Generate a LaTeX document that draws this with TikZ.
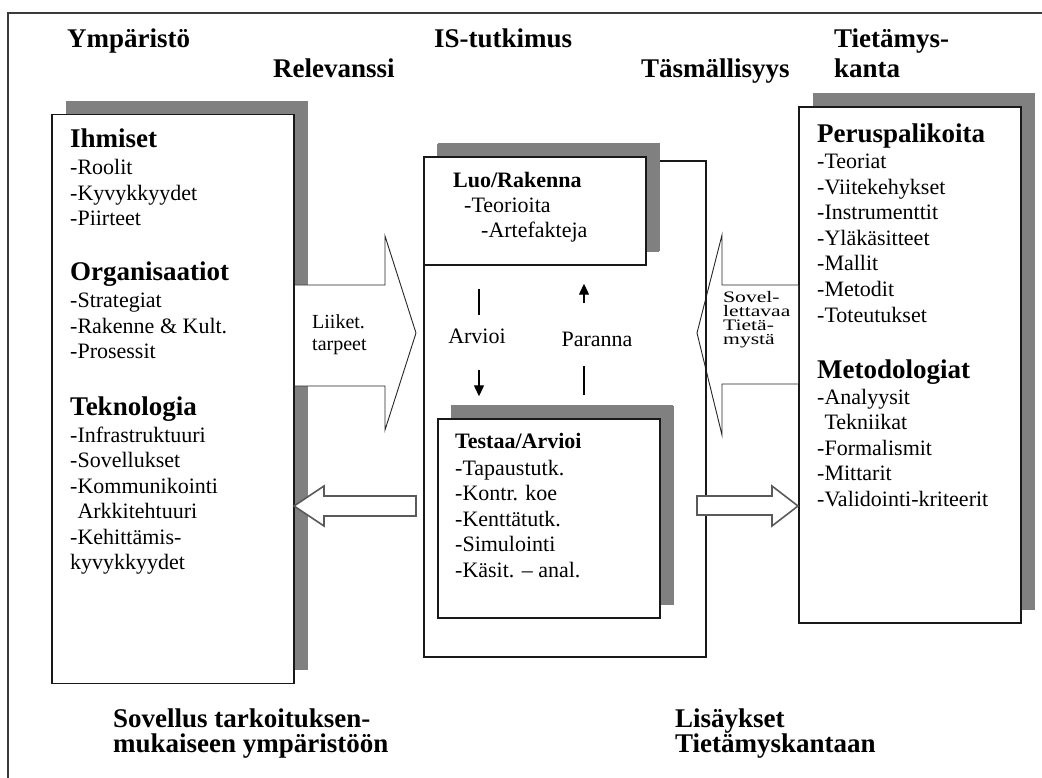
\documentclass[tikz,border=0pt]{standalone}
\usepackage{fontspec}
\setmainfont{Liberation Serif}
\newfontfamily\widelabelfont[FakeStretch=1.35]{Liberation Serif}
\usetikzlibrary{arrows.meta,shadows,calc}
\definecolor{shadowgray}{HTML}{808080}
\definecolor{framegray}{HTML}{3A3A3A}
\definecolor{arrowgray}{HTML}{5A5A5A}

\begin{document}
\begin{tikzpicture}[x=1pt,y=-1pt,
  panel/.style={draw=black!90, line width=1.4pt, fill=white, inner sep=0pt,
    general shadow={fill=shadowgray, shadow xshift=13.5pt, shadow yshift=13.5pt}},
  hdr/.style={font=\fontsize{27}{31}\selectfont\bfseries, anchor=base west, inner sep=0pt},
  boxhd/.style={font=\fontsize{27}{31}\selectfont\bfseries, anchor=base west, inner sep=0pt},
  subhd/.style={font=\fontsize{22}{25}\selectfont\bfseries, anchor=base west, inner sep=0pt},
  item/.style={font=\fontsize{22}{25}\selectfont, anchor=base west, inner sep=0pt},
  flowlbl/.style={font=\fontsize{22}{25}\selectfont, anchor=base, inner sep=0pt},
  arrowlbl/.style={font=\fontsize{20}{23}\selectfont, anchor=base west, inner sep=0pt},
  smalllbl/.style={font=\widelabelfont\fontsize{16}{14.2}\selectfont, anchor=north west, inner sep=0pt, align=left},
  bigarrow/.style={draw=black!85, line width=0.9pt, fill=white, line join=miter},
  smallarrow/.style={draw=arrowgray, line width=1.6pt, fill=white, line join=miter},
  flowline/.style={line width=1.3pt, black}
]
\useasboundingbox (0,0) rectangle (1042,778);

% outer frame, open towards the right and the bottom
\draw[framegray, line width=2pt] (1042,13) -- (8,13) -- (8,778);

% column headings
\node[hdr] (hEnv) at (67,48) {Ympäristö};
\node[hdr] (hRel) at (273,78) {Relevanssi};
\node[hdr] (hIS)  at (434,48) {IS-tutkimus};
\node[hdr] (hRig) at (641,78) {Täsmällisyys};
\node[hdr] (hKb1) at (834,48) {Tietämys-};
\node[hdr] (hKb2) at (834,78) {kanta};

% environment and knowledge base panels
\node[panel, minimum width=242pt, minimum height=569pt] (env) at (173,399) {};
\node[panel, minimum width=222pt, minimum height=516pt] (kb) at (910,365) {};

% big block arrows
\draw[bigarrow] (295,285) -- (385,285) -- (385,236) -- (416,333) -- (385,430) -- (385,386) -- (295,386);
\draw[bigarrow] (798,285) -- (722,285) -- (722,235) -- (697,333) -- (722,435) -- (722,384) -- (798,384);

% IS research frame with its two activity boxes
\node[draw=black!90, line width=1.1pt, minimum width=282pt, minimum height=496pt, inner sep=0pt] (isfr) at (565,409) {};
\node[panel, minimum width=222pt, minimum height=108pt,
  general shadow={fill=shadowgray, shadow xshift=13pt, shadow yshift=13pt}] (luo) at (535,211) {};
\node[panel, minimum width=222pt, minimum height=199pt,
  general shadow={fill=shadowgray, shadow xshift=12.5pt, shadow yshift=14.5pt}] (testaa) at (549,518.5) {};

% small block arrows
\draw[smallarrow] (294,506) -- (324,486) -- (324,496) -- (416,496) -- (416,516) -- (324,516) -- (324,526) -- cycle;
\draw[smallarrow] (697,496) -- (772,496) -- (772,486) -- (798,506) -- (772,526) -- (772,515) -- (697,515) -- cycle;

% environment contents
\node[boxhd] (ihm) at (70,148) {Ihmiset};
\foreach \t [count=\k] in {-Roolit,-Kyvykkyydet,-Piirteet}
  \node[item] (ihm\k) at (70,{149.5+\k*25.5}) {\t};
\node[boxhd] (org) at (70,280) {Organisaatiot};
\foreach \t [count=\k] in {-Strategiat,-Rakenne \& Kult.,-Prosessit}
  \node[item] (org\k) at (70,{282+\k*25.5}) {\t};
\node[boxhd] (tek) at (70,415) {Teknologia};
\foreach \t [count=\k] in {-Infrastruktuuri,-Sovellukset,-Kommunikointi,{\phantom{-}Arkkitehtuuri},-Kehittämis-,kyvykkyydet}
  \node[item] (tek\k) at (70,{416.5+\k*25.5}) {\t};

% knowledge base contents
\node[boxhd] (per) at (817,143) {Peruspalikoita};
\foreach \t [count=\k] in {-Teoriat,-Viitekehykset,-Instrumenttit,-Yläkäsitteet,-Mallit,-Metodit,-Toteutukset}
  \node[item] (per\k) at (817,{143.5+\k*25.5}) {\t};
\node[boxhd] (met) at (817,378) {Metodologiat};
\foreach \t [count=\k] in {-Analyysit,{\phantom{-}Tekniikat},-Formalismit,-Mittarit,-Validointi-kriteerit}
  \node[item] (met\k) at (817,{378.5+\k*25.5}) {\t};

% build box
\node[subhd] (luoT) at (453,188) {Luo/Rakenna};
\node[item] (luo1) at (464,213) {-Teorioita};
\node[item] (luo2) at (481,238) {-Artefakteja};

% evaluate box
\node[subhd] (tesT) at (455,448) {Testaa/Arvioi};
\foreach \t [count=\k] in {-Tapaustutk.,-Kontr. koe,-Kenttätutk.,-Simulointi,-Käsit. – anal.}
  \node[item] (tes\k) at (455,{449.5+\k*25.5}) {\t};

% assess / refine cycle
\node[flowlbl] (arvioi) at (477,343) {Arvioi};
\node[flowlbl] (paranna) at (597,346) {Paranna};
\draw[flowline] ($(luo.south -| arvioi)+(2,23)$) -- ($(arvioi.north)+(2,-13)$);
\draw[flowline, -{Triangle[width=10pt,length=11pt]}] ($(arvioi.south)+(2,27)$) -- ($(testaa.north -| arvioi)+(2,-22)$);
\draw[flowline] ($(testaa.north -| paranna)+(-13,-23)$) -- ($(paranna.south)+(-13,20)$);
\draw[flowline, -{Triangle[width=10pt,length=11pt]}] ($(paranna.north)+(-13,-28)$) -- ($(luo.south -| paranna)+(-13,18)$);

% block arrow labels
\node[arrowlbl] (need1) at (312,328) {Liiket.};
\node[arrowlbl] (need2) at (312,350) {tarpeet};
\node[smalllbl] (app) at (723,291) {Sovel-\\lettavaa\\Tietä-\\mystä};

% bottom captions
\node[hdr] (bL1) at (113,727) {Sovellus tarkoituksen-};
\node[hdr] (bL2) at (113,752) {mukaiseen ympäristöön};
\node[hdr] (bR1) at (675,727) {Lisäykset};
\node[hdr] (bR2) at (675,752) {Tietämyskantaan};
\end{tikzpicture}
\end{document}
